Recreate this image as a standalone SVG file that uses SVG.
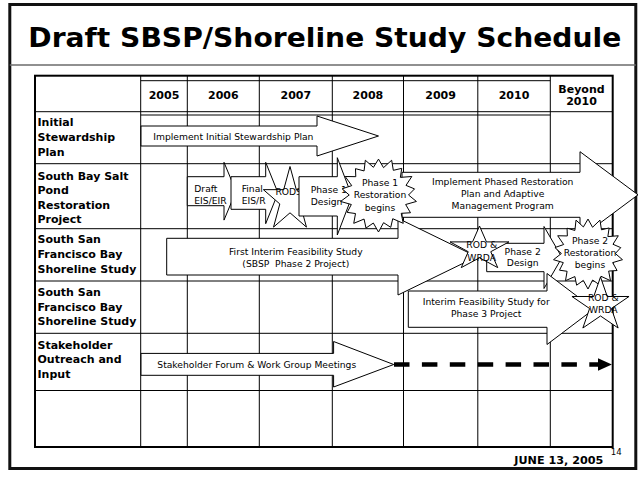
<svg xmlns="http://www.w3.org/2000/svg" xmlns:xlink="http://www.w3.org/1999/xlink" width="644" height="477" viewBox="0 0 644 477">
<style>
.ln{stroke:#000;stroke-width:1;fill:none}
.shape{fill:#fff;stroke:#000;stroke-width:1}
.lbl{font-family:"DejaVu Sans",Verdana,sans-serif;font-weight:bold;font-size:11px;fill:#000}
.yr{font-family:"DejaVu Sans",Verdana,sans-serif;font-weight:bold;font-size:11px;fill:#000;text-anchor:middle}
.t{font-family:"DejaVu Sans",Verdana,sans-serif;font-size:9.2px;fill:#000;text-anchor:middle}
.tl{font-family:"DejaVu Sans",Verdana,sans-serif;font-size:9.2px;fill:#000}
</style>
<defs>
<polygon id="burst" vector-effect="non-scaling-stroke" points="0,-0.97 0.13,-0.739 0.342,-0.94 0.385,-0.667 0.604,-0.72 0.567,-0.476 0.866,-0.5 0.714,-0.26 0.936,-0.165 0.78,0 0.985,0.174 0.705,0.257 0.831,0.48 0.59,0.495 0.643,0.766 0.37,0.641 0.318,0.874 0.132,0.748 0,1 -0.134,0.758 -0.325,0.893 -0.375,0.65 -0.643,0.766 -0.597,0.501 -0.814,0.47 -0.705,0.257 -0.985,0.174 -0.76,0 -0.945,-0.167 -0.695,-0.253 -0.866,-0.5 -0.59,-0.495 -0.598,-0.712 -0.375,-0.65 -0.342,-0.94 -0.132,-0.748"/>
<polygon id="star" vector-effect="non-scaling-stroke" points="0,-1 0.2245,-0.309 0.9511,-0.309 0.3633,0.118 0.5878,0.809 0,0.382 -0.5878,0.809 -0.3633,0.118 -0.9511,-0.309 -0.2245,-0.309"/>
<marker id="ah" markerUnits="userSpaceOnUse" markerWidth="16" markerHeight="14" refX="0.5" refY="6.5" orient="auto"><path d="M0,0 L14.4,6.5 L0,13 z" fill="#000"/></marker>
</defs>
<rect x="0" y="0" width="644" height="477" fill="#fff"/>
<g id="frame">
<rect x="9.8" y="4.5" width="626" height="464" fill="none" stroke="#111" stroke-width="3"/>
<line x1="9.8" y1="65" x2="635.8" y2="65" stroke="#6b6b6b" stroke-width="1.5"/>
<text x="28.3" y="46.7" font-family="'DejaVu Sans',Verdana,sans-serif" font-weight="bold" font-size="27" textLength="593" lengthAdjust="spacingAndGlyphs" fill="#000">Draft SBSP/Shoreline Study Schedule</text>
</g>
<g id="table">
<path class="ln" d="M35,111.7H612.7 M35,163.7H612.7 M35,228.7H612.7 M35,281H612.7 M35,333.3H612.7 M35,390.5H612.7 M140.7,80.7H550.3 M140.7,115H550.3 M140.7,75.7V447 M187.3,75.7V447 M259.3,75.7V447 M332.3,75.7V447 M403.5,75.7V447 M477.8,75.7V447 M550.3,75.7V447"/>
<rect x="35" y="75.7" width="577.7" height="371.3" fill="none" stroke="#000" stroke-width="2"/>
<text class="yr" x="164" y="98.5">2005</text>
<text class="yr" x="223.3" y="98.5">2006</text>
<text class="yr" x="295.8" y="98.5">2007</text>
<text class="yr" x="367.9" y="98.5">2008</text>
<text class="yr" x="440.6" y="98.5">2009</text>
<text class="yr" x="514" y="98.5">2010</text>
<text class="yr" x="581.5" y="93.3">Beyond</text>
<text class="yr" x="581.5" y="105">2010</text>
<text class="lbl" x="37.5"><tspan x="37.5" y="126.3">Initial</tspan><tspan x="37.5" y="141">Stewardship</tspan><tspan x="37.5" y="155.5">Plan</tspan></text>
<text class="lbl" x="37.5"><tspan x="37.5" y="179.5">South Bay Salt</tspan><tspan x="37.5" y="194">Pond</tspan><tspan x="37.5" y="208.5">Restoration</tspan><tspan x="37.5" y="223">Project</tspan></text>
<text class="lbl" x="37.5"><tspan x="37.5" y="243.3">South San</tspan><tspan x="37.5" y="258.3">Francisco Bay</tspan><tspan x="37.5" y="273.3">Shoreline Study</tspan></text>
<text class="lbl" x="37.5"><tspan x="37.5" y="296">South San</tspan><tspan x="37.5" y="310.7">Francisco Bay</tspan><tspan x="37.5" y="325.3">Shoreline Study</tspan></text>
<text class="lbl" x="37.5"><tspan x="37.5" y="348.5">Stakeholder</tspan><tspan x="37.5" y="363">Outreach and</tspan><tspan x="37.5" y="377.5">Input</tspan></text>
</g>
<g id="n-implement-initial">
<polygon class="shape" points="141,126 317,126 317,116 378.5,136 317,156 317,146 141,146"/>
<text class="tl" x="153.3" y="139.5" font-size="8.3">Implement Initial Stewardship Plan</text>
</g>
<g id="n-draft">
<polygon class="shape" points="187.3,176.7 224,176.7 224,162.3 236,191.2 224,220.1 224,205.7 187.3,205.7"/>
<text class="tl" x="194.3" y="191.7" font-size="9.4">Draft</text>
<text class="tl" x="194.3" y="204.3" font-size="9.4">EIS/EIR</text>
</g>
<g id="n-final">
<polygon class="shape" points="231,176.7 265.7,176.7 265.7,162.3 278,193 265.7,223.7 265.7,209.3 231,209.3"/>
<text class="tl" x="241.7" y="191.7" font-size="9.4">Final</text>
<text class="tl" x="241.7" y="204.3" font-size="9.4">EIS/R</text>
</g>
<g id="n-rods">
<use xlink:href="#star" class="shape" transform="translate(290,200) scale(28,33.5)"/>
<text class="t" x="288.7" y="195">RODS</text>
</g>
<g id="n-phase1-design">
<polygon class="shape" points="299,176.7 337.3,176.7 337.3,157.7 352,196.3 337.3,235 337.3,216 299,216"/>
<text class="tl" x="310.7" y="193.3">Phase 1</text>
<text class="tl" x="310.7" y="204.5">Design</text>
</g>
<g id="n-implement-phased">
<polygon class="shape" points="402,172.3 580,172.3 580,151.7 638,194.8 580,238 580,217.3 402,217.3"/>
<text class="t" x="502.7" y="185">Implement Phased Restoration</text>
<text class="t" x="502.7" y="197">Plan and Adaptive</text>
<text class="t" x="502.7" y="209.3">Management Program</text>
</g>
<g id="n-first-interim">
<polygon class="shape" points="166.7,238.3 398,238.3 398,218.3 476.7,256.7 398,295 398,275 166.7,275"/>
<text class="t" x="295.8" y="255">First Interim Feasibility Study</text>
<text class="t" x="295.8" y="266.7" xml:space="preserve">(SBSP  Phase 2 Project)</text>
</g>
<g id="n-phase1-restoration">
<use xlink:href="#burst" class="shape" transform="translate(378.5,195) scale(38.5,37)"/>
<text class="t" x="380" y="186">Phase 1</text>
<text class="t" x="380" y="198">Restoration</text>
<text class="t" x="380" y="210.5">begins</text>
</g>
<g id="n-phase2-design">
<polygon class="shape" points="486.7,243.3 544,243.3 544,226.5 562,257.5 544,288.5 544,271.7 486.7,271.7"/>
<text class="t" x="522.7" y="254.5">Phase 2</text>
<text class="t" x="522.7" y="265.5">Design</text>
</g>
<g id="n-rod-wrda-1">
<use xlink:href="#star" class="shape" transform="translate(479.5,249) scale(31,23)"/>
<text class="t" x="481.7" y="248.3">ROD &amp;</text>
<text class="t" x="481.7" y="261">WRDA</text>
</g>
<g id="n-interim-phase3">
<polygon class="shape" points="408.3,291 547,291 547,273.5 594,309 547,344.5 547,327.3 408.3,327.3"/>
<text class="t" x="486.2" y="305">Interim Feasibility Study for</text>
<text class="t" x="486.2" y="317.3">Phase 3 Project</text>
</g>
<g id="n-phase2-restoration">
<use xlink:href="#burst" class="shape" transform="translate(588,253.5) scale(35,35.5)"/>
<text class="t" x="590" y="243.5">Phase 2</text>
<text class="t" x="590" y="255.8">Restoration</text>
<text class="t" x="590" y="268">begins</text>
</g>
<g id="n-rod-wrda-2">
<use xlink:href="#star" class="shape" transform="translate(600.5,305.2) scale(30,28.2)"/>
<text class="t" x="603.3" y="300.7">ROD &amp;</text>
<text class="t" x="603.3" y="312.7">WRDA</text>
</g>
<g id="n-stakeholder">
<polygon class="shape" points="141,353.4 333.6,353.4 333.6,341.5 393.7,364.5 333.6,387 333.6,375.3 141,375.3"/>
<text class="tl" x="157.3" y="367.6">Stakeholder Forum &amp; Work Group Meetings</text>
</g>
<g id="connectors">
<line x1="394" y1="364.5" x2="598" y2="364.5" stroke="#000" stroke-width="4.3" stroke-dasharray="15.5 12.4" marker-end="url(#ah)"/>
</g>
<g id="footer">
<text x="603.3" y="463.5" font-family="'DejaVu Sans',Verdana,sans-serif" font-weight="bold" font-size="11.2" text-anchor="end" fill="#000">JUNE 13, 2005</text>
<text x="610.7" y="455" font-family="'DejaVu Sans',Verdana,sans-serif" font-size="8.6" fill="#000">14</text>
</g>
</svg>
